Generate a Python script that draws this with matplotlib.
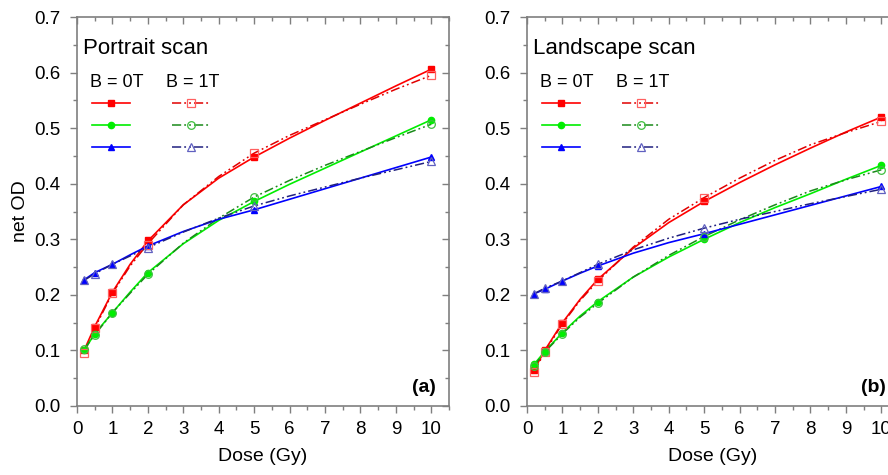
import matplotlib
matplotlib.use("Agg")
from matplotlib import pyplot
from matplotlib.lines import Line2D

pyplot.rcParams["font.family"] = ["Liberation Sans", "DejaVu Sans"]

# measured points
dose = [0.2, 0.5, 1, 2, 5, 10]

portrait_red_0t = [0.100, 0.143, 0.205, 0.298, 0.448, 0.606]
portrait_red_1t = [0.095, 0.140, 0.203, 0.290, 0.455, 0.595]
portrait_green_0t = [0.100, 0.130, 0.168, 0.240, 0.368, 0.515]
portrait_green_1t = [0.102, 0.128, 0.168, 0.237, 0.376, 0.507]
portrait_blue_0t = [0.227, 0.240, 0.255, 0.288, 0.353, 0.448]
portrait_blue_1t = [0.226, 0.238, 0.255, 0.285, 0.360, 0.440]

landscape_red_0t = [0.065, 0.100, 0.150, 0.228, 0.368, 0.520]
landscape_red_1t = [0.062, 0.097, 0.148, 0.225, 0.375, 0.512]
landscape_green_0t = [0.075, 0.098, 0.132, 0.188, 0.300, 0.433]
landscape_green_1t = [0.072, 0.097, 0.130, 0.185, 0.305, 0.425]
landscape_blue_0t = [0.202, 0.210, 0.225, 0.252, 0.310, 0.395]
landscape_blue_1t = [0.202, 0.212, 0.225, 0.255, 0.320, 0.390]

# fitted curves
curve_dose = [0.2, 0.5, 1, 1.5, 2, 3, 4, 5, 6, 7, 8, 9, 10]

portrait_red_0t_fit = [0.100, 0.143, 0.205, 0.255, 0.297, 0.362, 0.410, 0.448, 0.482, 0.514, 0.545, 0.576, 0.606]
portrait_red_1t_fit = [0.095, 0.140, 0.203, 0.252, 0.292, 0.362, 0.413, 0.455, 0.487, 0.515, 0.543, 0.570, 0.595]
portrait_green_0t_fit = [0.100, 0.130, 0.168, 0.205, 0.240, 0.292, 0.334, 0.368, 0.399, 0.428, 0.457, 0.486, 0.515]
portrait_green_1t_fit = [0.102, 0.128, 0.168, 0.203, 0.237, 0.293, 0.338, 0.376, 0.406, 0.433, 0.458, 0.483, 0.507]
portrait_blue_0t_fit = [0.227, 0.240, 0.255, 0.272, 0.288, 0.314, 0.336, 0.353, 0.372, 0.391, 0.410, 0.429, 0.448]
portrait_blue_1t_fit = [0.226, 0.238, 0.255, 0.270, 0.285, 0.313, 0.338, 0.360, 0.378, 0.394, 0.410, 0.425, 0.440]

landscape_red_0t_fit = [0.065, 0.100, 0.150, 0.192, 0.228, 0.284, 0.330, 0.368, 0.402, 0.434, 0.464, 0.493, 0.520]
landscape_red_1t_fit = [0.062, 0.097, 0.148, 0.190, 0.225, 0.286, 0.336, 0.375, 0.410, 0.442, 0.470, 0.492, 0.512]
landscape_green_0t_fit = [0.075, 0.098, 0.132, 0.162, 0.188, 0.232, 0.268, 0.300, 0.330, 0.357, 0.382, 0.408, 0.433]
landscape_green_1t_fit = [0.072, 0.097, 0.130, 0.160, 0.185, 0.232, 0.271, 0.305, 0.335, 0.362, 0.387, 0.407, 0.425]
landscape_blue_0t_fit = [0.202, 0.210, 0.225, 0.239, 0.252, 0.275, 0.294, 0.310, 0.327, 0.344, 0.361, 0.378, 0.395]
landscape_blue_1t_fit = [0.202, 0.212, 0.225, 0.240, 0.255, 0.281, 0.302, 0.320, 0.336, 0.350, 0.364, 0.377, 0.390]

GREY = "#7f7f7f"
DASHDOT = (0, (6, 2, 1.2, 2, 1.2, 2))

# (colour of 0T line, colour of 1T line, colour of 1T open marker, marker)
styles = {
    "red": ("#ff0000", "#e00000", "#ff6060", "s"),
    "green": ("#00ee00", "#1a8a1a", "#40c040", "o"),
    "blue": ("#0000ff", "#202080", "#6060c0", "^"),
}


def draw_panel(axis, title, tag, series):
    for name, pts_0t, pts_1t, fit_0t, fit_1t in series:
        c0, c1, cm, marker = styles[name]
        axis.plot(curve_dose, fit_0t, color=c0, lw=1.2, zorder=3)
        axis.plot(curve_dose, fit_1t, color=c1, lw=1.1, ls=DASHDOT, zorder=3)
        axis.plot(dose, pts_0t, ls="none", marker=marker, ms=4.5,
                  color=c0, zorder=4)
        axis.plot(dose, pts_1t, ls="none", marker=marker, ms=5.5,
                  mfc="none", mec=cm, mew=0.9, zorder=5)

    axis.set_xlim(0, 10.5)
    axis.set_ylim(0, 0.7)
    axis.set_xticks(range(0, 11))
    axis.set_xticks([x + 0.5 for x in range(0, 11)], minor=True)
    axis.set_yticks([i / 10 for i in range(0, 8)])
    axis.set_yticks([i / 10 + 0.05 for i in range(0, 7)], minor=True)
    axis.set_yticklabels([f"{i / 10:.1f}" for i in range(0, 8)])
    axis.tick_params(which="both", direction="out", colors=GREY,
                     labelcolor="black", labelsize=13.5, width=1)
    axis.tick_params(which="major", length=5)
    axis.tick_params(axis="y", which="major", pad=7)
    axis.tick_params(axis="x", which="major", pad=6)
    axis.tick_params(which="minor", length=3)
    for spine in axis.spines.values():
        spine.set_color(GREY)
        spine.set_linewidth(1.2)

    # inward ticks on top and right
    top = axis.secondary_xaxis("top")
    top.set_xticks(range(0, 11))
    top.set_xticks([x + 0.5 for x in range(0, 11)], minor=True)
    top.tick_params(which="both", direction="in", colors=GREY,
                    labeltop=False, width=1)
    top.tick_params(which="major", length=5)
    top.tick_params(which="minor", length=3)
    top.spines["top"].set_visible(False)
    right = axis.secondary_yaxis("right")
    right.set_yticks([i / 10 for i in range(0, 8)])
    right.set_yticks([i / 10 + 0.05 for i in range(0, 7)], minor=True)
    right.tick_params(which="both", direction="in", colors=GREY,
                      labelright=False, width=1)
    right.tick_params(which="major", length=5)
    right.tick_params(which="minor", length=3)
    right.spines["right"].set_visible(False)

    axis.set_xlabel("Dose (Gy)", fontsize=14, labelpad=7)
    axis.text(0.015, 0.905, title, transform=axis.transAxes, fontsize=16)
    axis.text(0.035, 0.82, "B = 0T", transform=axis.transAxes, fontsize=13)
    axis.text(0.24, 0.82, "B = 1T", transform=axis.transAxes, fontsize=13)
    axis.text(0.965, 0.035, tag, transform=axis.transAxes, fontsize=14,
              fontweight="bold", ha="right")

    handles = []
    for name in ["red", "green", "blue"]:
        c0, c1, cm, marker = styles[name]
        handles.append(Line2D([], [], color=c0, lw=1.2, marker=marker, ms=4.5))
    for name in ["red", "green", "blue"]:
        c0, c1, cm, marker = styles[name]
        handles.append(Line2D([], [], color=c1, lw=1.1, ls=DASHDOT,
                              marker=marker, ms=5.5, mfc="none", mec=cm,
                              mew=0.9))
    axis.legend(handles, [""] * 6, ncol=2, loc="upper left",
                bbox_to_anchor=(0.018, 0.815), frameon=False, fontsize=10,
                handlelength=2.75, handletextpad=0.0, columnspacing=3.0,
                labelspacing=0.55, borderaxespad=0.2)


figure = pyplot.figure(figsize=(8.88, 4.75), dpi=100)
left = figure.add_axes([77 / 888, 69 / 475, 372 / 888, 389 / 475])
right = figure.add_axes([527 / 888, 69 / 475, 372 / 888, 389 / 475])

draw_panel(left, "Portrait scan", "(a)", [
    ("red", portrait_red_0t, portrait_red_1t, portrait_red_0t_fit, portrait_red_1t_fit),
    ("green", portrait_green_0t, portrait_green_1t, portrait_green_0t_fit, portrait_green_1t_fit),
    ("blue", portrait_blue_0t, portrait_blue_1t, portrait_blue_0t_fit, portrait_blue_1t_fit),
])
draw_panel(right, "Landscape scan", "(b)", [
    ("red", landscape_red_0t, landscape_red_1t, landscape_red_0t_fit, landscape_red_1t_fit),
    ("green", landscape_green_0t, landscape_green_1t, landscape_green_0t_fit, landscape_green_1t_fit),
    ("blue", landscape_blue_0t, landscape_blue_1t, landscape_blue_0t_fit, landscape_blue_1t_fit),
])
left.set_ylabel("net OD", fontsize=14, labelpad=4)

figure.savefig("out.png", dpi=100)
